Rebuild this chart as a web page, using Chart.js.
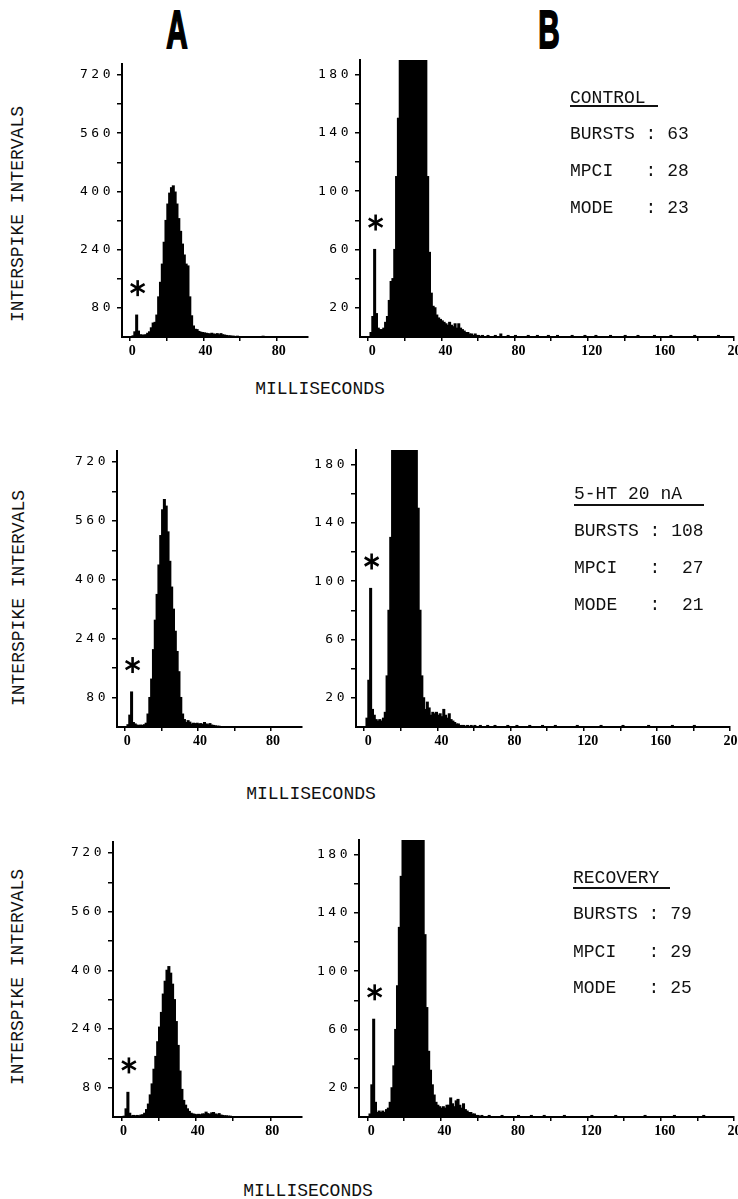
<!DOCTYPE html>
<html>
<head>
<meta charset="utf-8">
<script src="https://cdn.jsdelivr.net/npm/chart.js@4.4.1/dist/chart.umd.min.js"></script>
<style>
  html, body { margin: 0; padding: 0; background: #fff; }
  body { width: 738px; height: 1199px; position: relative; overflow: hidden; }
  .type { position: absolute; font-family: "Liberation Mono", "DejaVu Sans Mono", monospace; font-size: 18px; line-height: 20px; color: #111; white-space: pre; }
  .head { position: absolute; font-family: "Liberation Sans", Arial, sans-serif; font-weight: bold; font-size: 54px; line-height: 54px; color: #000;
          transform: translate(-50%, -50%) scaleX(0.55); -webkit-text-stroke: 2px #000; }
  .ytitle { position: absolute; width: 300px; text-align: center; transform: translate(-50%, -50%) rotate(-90deg); }
  .xtitle { position: absolute; width: 300px; text-align: center; transform: translateX(-50%); }
  .rule { position: absolute; height: 2px; background: #111; }
</style>
</head>
<body>
<div class="head" style="left:177px;top:29px">A</div>
<div class="head" style="left:549px;top:29px">B</div>

<script>
// interspike interval histograms, 1 ms bins starting at 0 ms
var binWidthMs = 1;

var controlCounts = [
  0, 3, 14, 60, 16, 6, 5, 5, 6, 10,
  14, 25, 38, 40, 60, 110, 150, 200, 260, 320,
  365, 395, 410, 415, 398, 365, 325, 290, 255, 225,
  200, 195, 110, 58, 30, 21, 20, 15, 13, 12,
  11, 10, 9, 8, 10, 8, 7, 9, 6, 9,
  6, 5, 4, 3, 3, 2, 2, 1, 2, 1,
  1, 0, 1, 0, 0, 1, 0, 0, 0, 1,
  0, 0, 2, 0, 0, 0, 1, 0, 0, 0,
  1, 0, 0, 0, 0, 0, 0, 1, 0, 0,
  0, 0, 1, 0, 0, 0, 0, 0, 1, 0,
  0, 0, 0, 1, 0, 0, 0, 0, 0, 0,
  0, 1, 0, 0, 0, 0, 0, 0, 1, 0,
  0, 0, 0, 0, 1, 0, 0, 0, 0, 0,
  0, 0, 1, 0, 0, 0, 0, 0, 0, 0,
  1, 0, 0, 0, 0, 0, 0, 1, 0, 0,
  0, 0, 0, 0, 0, 0, 1, 0, 0, 0,
  0, 0, 0, 0, 0, 1, 0, 0, 0, 0,
  0, 0, 0, 0, 0, 0, 0, 0, 1, 0,
  0, 0, 0, 0, 0, 0, 0, 0, 0, 0,
  0, 1, 0, 0, 0, 0, 0, 0, 0, 0
];

var serotoninCounts = [
  0, 6, 32, 95, 12, 8, 5, 4, 5, 4,
  6, 10, 35, 80, 130, 210, 290, 360, 440, 520,
  590, 618, 600, 530, 450, 380, 320, 260, 205, 150,
  80, 35, 20, 12, 17, 13, 8, 10, 9, 10,
  8, 9, 7, 12, 8, 6, 9, 5, 4, 3,
  2, 2, 1, 1, 1, 0, 1, 0, 1, 0,
  1, 0, 0, 1, 0, 0, 0, 1, 0, 0,
  0, 1, 0, 0, 0, 0, 0, 0, 1, 0,
  0, 0, 0, 1, 0, 0, 0, 0, 0, 0,
  1, 0, 0, 0, 0, 0, 0, 1, 0, 0,
  0, 0, 0, 0, 1, 0, 0, 0, 0, 0,
  0, 0, 0, 0, 0, 0, 1, 0, 0, 0,
  0, 0, 0, 0, 0, 0, 0, 0, 0, 1,
  0, 0, 0, 0, 0, 0, 0, 0, 0, 0,
  0, 1, 0, 0, 0, 0, 0, 0, 0, 0,
  0, 0, 0, 0, 0, 1, 0, 0, 0, 0,
  0, 0, 0, 0, 0, 0, 0, 0, 1, 0,
  0, 0, 0, 0, 0, 0, 0, 0, 0, 0,
  1, 0, 0, 0, 0, 0, 0, 0, 0, 0,
  0, 0, 0, 0, 0, 0, 0, 0, 0, 0
];

var recoveryCounts = [
  0, 2, 22, 67, 10, 3, 4, 3, 4, 3,
  5, 6, 10, 20, 35, 60, 90, 130, 165, 205,
  245, 285, 335, 370, 400, 410, 392, 362, 320, 260,
  195, 125, 75, 45, 32, 22, 15, 10, 8, 7,
  6, 7, 6, 8, 8, 13, 9, 7, 11, 12,
  8, 6, 9, 5, 4, 3, 3, 2, 2, 1,
  1, 0, 1, 0, 0, 0, 1, 0, 0, 0,
  0, 0, 0, 1, 0, 0, 0, 0, 0, 0,
  0, 0, 1, 0, 0, 0, 0, 0, 0, 1,
  0, 0, 0, 0, 0, 0, 1, 0, 0, 0,
  0, 0, 0, 0, 0, 0, 0, 1, 0, 0,
  0, 0, 0, 0, 0, 0, 0, 0, 0, 0,
  0, 0, 1, 0, 0, 0, 0, 0, 0, 0,
  0, 0, 0, 0, 0, 1, 0, 0, 0, 0,
  0, 0, 0, 0, 0, 0, 0, 0, 0, 0,
  0, 1, 0, 0, 0, 0, 0, 0, 0, 0,
  0, 0, 0, 0, 0, 0, 0, 1, 0, 0,
  0, 0, 0, 0, 0, 0, 0, 0, 0, 0,
  0, 0, 0, 1, 0, 0, 0, 0, 0, 0,
  0, 0, 0, 0, 0, 0, 0, 0, 0, 0
];

var conditionNames = ["CONTROL", "5-HT 20 nA", "RECOVERY"];
var burstCounts = [63, 108, 79];
var mpciValues = [28, 27, 29];
var modeValues = [23, 21, 25];

var yTicksA = [80, 160, 240, 320, 400, 480, 560, 640, 720];
var yLabelsA = [80, 240, 400, 560, 720];
var yTicksB = [20, 40, 60, 80, 100, 120, 140, 160, 180];
var yLabelsB = [20, 60, 100, 140, 180];
var xTicksA = [0, 20, 40, 60, 80];
var xTicksB = [0, 20, 40, 60, 80, 100, 120, 140, 160, 180, 200];
var xLabels = [0, 40, 80, 120, 160, 200];

var yTitle = "INTERSPIKE INTERVALS";
var xTitle = "MILLISECONDS";

// page layout (pixels)
var rows = [
  { counts: controlCounts,
    a: { axisX: 122, top: 64, right: 308, base: 337 },
    b: { axisX: 360, top: 60, right: 734, base: 337 },
    yTitle: [18, 214], xTitle: [320, 379], info: { left: 570, y: 97, rule: 105, ruleW: 88, lines: [133, 170, 207] } },
  { counts: serotoninCounts,
    a: { axisX: 117, top: 451, right: 302, base: 727 },
    b: { axisX: 356, top: 450, right: 730, base: 727 },
    yTitle: [19, 598], xTitle: [311, 784], info: { left: 574, y: 493, rule: 504, ruleW: 130, lines: [530, 567, 604] } },
  { counts: recoveryCounts,
    a: { axisX: 113, top: 842, right: 302, base: 1117 },
    b: { axisX: 359, top: 840, right: 734, base: 1117 },
    yTitle: [18, 977], xTitle: [308, 1181], info: { left: 573, y: 877, rule: 887, ruleW: 97, lines: [913, 951, 987] } }
];

var scaleA = { xMin: -4.5, xMax: 97, yMax: 750, yTicks: yTicksA, yLabels: yLabelsA, xTicks: xTicksA, labelOffset: 2 };
var scaleB = { xMin: -4.5, xMax: 200, yMax: 190, yTicks: yTicksB, yLabels: yLabelsB, xTicks: xTicksB, labelOffset: 4 };

// asterisk above the short-interval spike
var asteriskPlugin = {
  id: "asterisk",
  afterDatasetsDraw: function(chart) {
    var pts = chart.data.datasets[0].data;
    var k = 0;
    for (var i = 1; i < 9; i++) { if (pts[i].y > pts[k].y) k = i; }
    var x = chart.scales.x.getPixelForValue(pts[k].x) + 1;
    var y = chart.scales.y.getPixelForValue(pts[k].y) - 27;
    var ctx = chart.ctx;
    ctx.save();
    ctx.strokeStyle = "#000";
    ctx.lineWidth = 2.6;
    for (var a = 0; a < 3; a++) {
      var t = Math.PI / 2 + a * Math.PI / 3;
      ctx.beginPath();
      ctx.moveTo(x - 8 * Math.cos(t), y - 8 * Math.sin(t));
      ctx.lineTo(x + 8 * Math.cos(t), y + 8 * Math.sin(t));
      ctx.stroke();
    }
    ctx.restore();
  }
};

// typewriter-like spacing for the count labels
var spacedLabels = {
  id: "spacedLabels",
  beforeDraw: function(chart) {
    var sc = chart.scales.y;
    if (sc._spaced) return;
    var orig = sc.drawLabels;
    sc.drawLabels = function(area) {
      this.ctx.save();
      this.ctx.letterSpacing = "3.5px";
      orig.call(this, area);
      this.ctx.restore();
    };
    sc._spaced = true;
  }
};

function makePanel(box, counts, s) {
  var padTop = 12, padRight = 16, yW = 60, xH = 24;
  var left = box.axisX - yW;
  var top = box.top - padTop;
  var w = box.right - left + padRight;
  var h = box.base - top + xH;

  var cv = document.createElement("canvas");
  cv.width = w;
  cv.height = h;
  cv.style.cssText = "position:absolute;left:" + left + "px;top:" + top + "px;width:" + w + "px;height:" + h + "px";
  document.body.appendChild(cv);

  var points = counts.map(function(c, i) { return { x: i * binWidthMs + binWidthMs / 2, y: c }; });

  new Chart(cv.getContext("2d"), {
    type: "bar",
    data: {
      datasets: [{
        data: points,
        backgroundColor: "#000",
        borderWidth: 0,
        barPercentage: 1,
        categoryPercentage: 1,
        inflateAmount: 0.6,
        clip: 0
      }]
    },
    options: {
      responsive: false,
      animation: false,
      events: [],
      layout: { padding: { top: padTop, right: padRight, left: 0, bottom: 0 } },
      plugins: { legend: { display: false }, tooltip: { enabled: false } },
      scales: {
        x: {
          type: "linear",
          offset: false,
          bounds: "data",
          min: s.xMin,
          max: s.xMax,
          afterBuildTicks: function(ax) { ax.ticks = s.xTicks.map(function(v) { return { value: v }; }); },
          afterFit: function(ax) { ax.height = xH; },
          ticks: {
            autoSkip: false, maxRotation: 0, padding: 2, labelOffset: s.labelOffset, color: "#000",
            font: { family: "'Liberation Serif', serif", size: 14, weight: "bold" },
            callback: function(v) { return xLabels.indexOf(v) >= 0 ? String(v) : ""; }
          },
          grid: { offset: false, drawOnChartArea: false, drawTicks: true, tickLength: 4, color: "#000", lineWidth: 1.5 },
          border: { display: true, color: "#000", width: 2 }
        },
        y: {
          bounds: "data",
          min: 0,
          max: s.yMax,
          afterBuildTicks: function(ax) { ax.ticks = s.yTicks.map(function(v) { return { value: v }; }); },
          afterFit: function(ax) { ax.width = yW; },
          ticks: {
            autoSkip: false, padding: 3, color: "#000",
            font: { family: "'DejaVu Sans Mono', monospace", size: 13 },
            callback: function(v) { return s.yLabels.indexOf(v) >= 0 ? String(v) : ""; }
          },
          grid: { drawOnChartArea: false, drawTicks: true, tickLength: 5, color: "#000", lineWidth: 1.5 },
          border: { display: true, color: "#000", width: 2 }
        }
      }
    },
    plugins: [asteriskPlugin, spacedLabels]
  });
}

function addText(cls, text, x, y) {
  var d = document.createElement("div");
  d.className = "type " + cls;
  d.textContent = text;
  d.style.left = x + "px";
  d.style.top = y + "px";
  document.body.appendChild(d);
  return d;
}

rows.forEach(function(r, i) {
  makePanel(r.a, r.counts, scaleA);
  makePanel(r.b, r.counts, scaleB);

  addText("ytitle", yTitle, r.yTitle[0], r.yTitle[1]);
  addText("xtitle", xTitle, r.xTitle[0], r.xTitle[1]);

  var inf = r.info;
  addText("", conditionNames[i], inf.left, inf.y - 9);
  var rule = document.createElement("div");
  rule.className = "rule";
  rule.style.left = inf.left + "px";
  rule.style.top = inf.rule + "px";
  rule.style.width = inf.ruleW + "px";
  document.body.appendChild(rule);

  var nw = Math.max(String(burstCounts[i]).length, String(mpciValues[i]).length, String(modeValues[i]).length);
  var lines = [
    "BURSTS : " + String(burstCounts[i]).padStart(nw),
    "MPCI   : " + String(mpciValues[i]).padStart(nw),
    "MODE   : " + String(modeValues[i]).padStart(nw)
  ];
  lines.forEach(function(txt, j) { addText("", txt, inf.left, inf.lines[j] - 9); });
});
</script>
</body>
</html>
